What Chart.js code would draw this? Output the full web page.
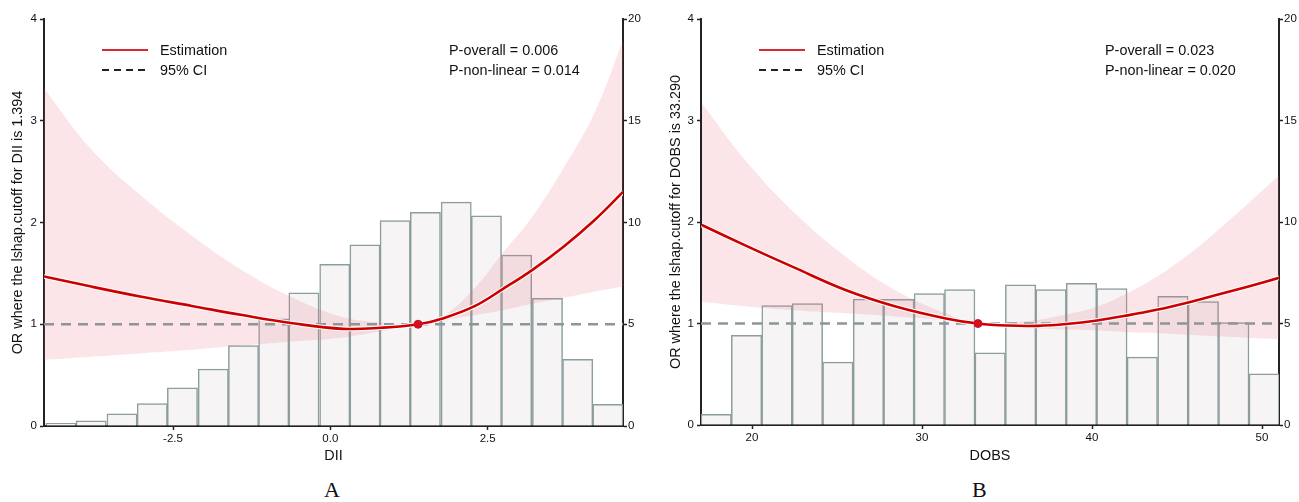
<!DOCTYPE html>
<html>
<head>
<meta charset="utf-8">
<script src="https://cdn.jsdelivr.net/npm/chart.js@4.4.1/dist/chart.umd.min.js"></script>
<style>
  body { margin: 0; background: #fff; width: 1299px; height: 502px; position: relative; overflow: hidden;
         font-family: "Liberation Sans", Arial, sans-serif; }
  canvas { position: absolute; top: 0; }
  #cA { left: 0; }
  #cB { left: 650px; }
  .note { position: absolute; font-size: 14.4px; color: #111; line-height: 20px; white-space: nowrap; }
  .key { position: absolute; height: 2px; width: 46px; }
  .red { background: #d42a36; }
  .dash { background: repeating-linear-gradient(to right, #222 0 7px, transparent 7px 12px); }
  .letter { position: absolute; top: 477px; font-family: "Liberation Serif", "Times New Roman", serif;
            font-size: 22px; color: #111; }
</style>
</head>
<body>
<canvas id="cA" width="650" height="470"></canvas>
<canvas id="cB" width="649" height="470"></canvas>

<div class="key red" style="left:102px;top:49px"></div>
<div class="note" style="left:160px;top:40px">Estimation</div>
<div class="key dash" style="left:102px;top:69px"></div>
<div class="note" style="left:160px;top:60px">95% CI</div>
<div class="note" style="left:449px;top:40px">P-overall = 0.006</div>
<div class="note" style="left:449px;top:60px">P-non-linear = 0.014</div>
<div class="letter" style="left:324px">A</div>

<div class="key red" style="left:759px;top:49px"></div>
<div class="note" style="left:817px;top:40px">Estimation</div>
<div class="key dash" style="left:759px;top:69px"></div>
<div class="note" style="left:817px;top:60px">95% CI</div>
<div class="note" style="left:1105px;top:40px">P-overall = 0.023</div>
<div class="note" style="left:1105px;top:60px">P-non-linear = 0.020</div>
<div class="letter" style="left:972px">B</div>

<script>
'use strict';

// ---- panel A : DII ----
const xA   = [-4.55, -3.8, -3.0, -2.2, -1.4, -0.6, 0.2, 0.8, 1.394, 1.8, 2.3, 2.75, 3.2, 3.7, 4.2, 4.65];
const estA = [1.47, 1.37, 1.27, 1.18, 1.09, 1.01, 0.955, 0.965, 1.0, 1.06, 1.18, 1.35, 1.53, 1.76, 2.025, 2.30];
const upA  = [3.32, 2.72, 2.26, 1.87, 1.53, 1.26, 1.07, 1.02, 1.0, 1.08, 1.36, 1.71, 2.05, 2.53, 3.08, 3.79];
const loA  = [0.65, 0.68, 0.715, 0.75, 0.79, 0.83, 0.87, 0.93, 1.0, 1.04, 1.09, 1.14, 1.20, 1.26, 1.32, 1.37];
const binA = [-4.28, -3.80, -3.31, -2.83, -2.35, -1.86, -1.38, -0.90, -0.42, 0.07, 0.55, 1.03, 1.51, 2.00, 2.48, 2.96, 3.45, 3.93, 4.41];
const cntA = [0.13, 0.26, 0.6, 1.1, 1.87, 2.8, 3.95, 5.27, 6.55, 7.95, 8.9, 10.1, 10.5, 11.0, 10.33, 8.4, 6.27, 3.28, 1.07];
const xTicksA = [-2.5, 0, 2.5];
const xLabelsA = ['-2.5', '0.0', '2.5'];

// ---- panel B : DOBS ----
const xB   = [17.05, 19.6, 22.5, 25.5, 28.4, 31.4, 33.29, 35.0, 36.8, 38.5, 40.3, 42.1, 43.8, 45.6, 47.2, 49.1, 51.0];
const estB = [1.97, 1.77, 1.55, 1.33, 1.17, 1.05, 1.0, 0.98, 0.977, 0.995, 1.03, 1.08, 1.135, 1.205, 1.275, 1.36, 1.45];
const upB  = [3.17, 2.61, 2.09, 1.66, 1.33, 1.10, 1.0, 1.01, 1.035, 1.09, 1.165, 1.30, 1.46, 1.67, 1.89, 2.17, 2.46];
const loB  = [1.215, 1.17, 1.13, 1.10, 1.07, 1.035, 1.0, 0.97, 0.95, 0.94, 0.93, 0.915, 0.905, 0.89, 0.875, 0.86, 0.845];
const binB = [17.89, 19.68, 21.47, 23.26, 25.05, 26.85, 28.64, 30.43, 32.22, 34.01, 35.80, 37.59, 39.38, 41.17, 42.96, 44.76, 46.55, 48.34, 50.13];
const cntB = [0.53, 4.42, 5.88, 5.98, 3.1, 6.2, 6.19, 6.47, 6.67, 3.55, 6.91, 6.67, 6.98, 6.72, 3.34, 6.34, 6.08, 5.05, 2.52];
const xTicksB = [20, 30, 40, 50];
const xLabelsB = ['20', '30', '40', '50'];

const orTicks = [0, 1, 2, 3, 4];
const countTicks = [0, 5, 10, 15, 20];

const FONT = 'Liberation Sans';

function pts(xs, ys) {
  return xs.map(function(x, i) { return {x: x, y: ys[i]}; });
}

function axisBits() {
  return {
    grid: { display: true, offset: false, drawOnChartArea: false, drawTicks: true, tickLength: 4,
            tickColor: '#222', tickWidth: 1.5 },
    border: { display: true, color: '#222', width: 2 }
  };
}

function makeChart(id, o) {
  const tickFont = { size: 11.5, family: FONT };
  return new Chart(document.getElementById(id), {
    type: 'bar',
    data: {
      datasets: [
        { type: 'line', data: pts(o.xs, o.est), borderColor: '#cc0000', borderWidth: 2.6,
          pointRadius: 0, tension: 0.4, order: 1 },
        // thin white halo under the estimate, as in the original
        { type: 'line', data: pts(o.xs, o.est), borderColor: '#ffffff', borderWidth: 4.6,
          pointRadius: 0, tension: 0.4, order: 1.5 },
        { type: 'line', data: [{x: o.cut, y: 1}], showLine: false, pointRadius: 4,
          pointBackgroundColor: '#d0101e', pointBorderColor: '#d0101e', order: 0 },
        { type: 'line', data: [{x: o.min, y: 1}, {x: o.max, y: 1}], borderColor: '#8d9696',
          borderWidth: 2.5, borderDash: [10, 7], pointRadius: 0, order: 2 },
        { type: 'line', data: pts(o.xs, o.up), borderWidth: 0, pointRadius: 0, fill: '+1',
          backgroundColor: 'rgba(232,110,125,0.18)', tension: 0.4, order: 3 },
        { type: 'line', data: pts(o.xs, o.lo), borderWidth: 0, pointRadius: 0, fill: false,
          tension: 0.4, order: 3 },
        { type: 'bar', data: pts(o.bins, o.counts), yAxisID: 'y2', backgroundColor: '#f6f4f5',
          borderColor: '#8b9d9d', borderWidth: 1.5, barPercentage: 1, categoryPercentage: 1, order: 4 }
      ]
    },
    options: {
      responsive: false,
      animation: false,
      devicePixelRatio: 1,
      layout: { padding: { top: 19, left: 0, right: 0, bottom: 0 } },
      plugins: { legend: { display: false }, tooltip: { enabled: false } },
      scales: {
        x: Object.assign(axisBits(), {
          type: 'linear', min: o.min, max: o.max, offset: false,
          afterBuildTicks: function(s) { s.ticks = o.xTicks.map(function(v) { return {value: v}; }); },
          afterFit: function(s) { s.height = o.xh; },
          ticks: { color: '#111', font: tickFont, padding: 2, maxRotation: 0,
                   callback: function(v, i) { return o.xLabels[i]; } },
          title: { display: true, text: o.xTitle, color: '#111', font: { size: 14.4, family: FONT },
                   padding: { top: 0, bottom: 5 } }
        }),
        y: Object.assign(axisBits(), {
          position: 'left', min: 0, max: 4,
          afterBuildTicks: function(s) { s.ticks = orTicks.map(function(v) { return {value: v}; }); },
          afterFit: function(s) { s.width = o.yw; },
          ticks: { color: '#111', font: tickFont, padding: 3 },
          title: { display: true, text: o.yTitle, color: '#111', font: { size: 14.4, family: FONT },
                   padding: { top: o.ytp, bottom: 0 } }
        }),
        y2: Object.assign(axisBits(), {
          position: 'right', min: 0, max: 20,
          afterBuildTicks: function(s) { s.ticks = countTicks.map(function(v) { return {value: v}; }); },
          afterFit: function(s) { s.width = o.y2w; },
          ticks: { color: '#111', font: tickFont, padding: 1 }
        })
      }
    }
  });
}

makeChart('cA', {
  xs: xA, est: estA, up: upA, lo: loA, bins: binA, counts: cntA, cut: 1.394,
  min: -4.55, max: 4.65, xTicks: xTicksA, xLabels: xLabelsA, xTitle: 'DII',
  yTitle: 'OR where the lshap.cutoff for DII is 1.394',
  xh: 44, yw: 44, y2w: 27, ytp: 9.6
});

makeChart('cB', {
  xs: xB, est: estB, up: upB, lo: loB, bins: binB, counts: cntB, cut: 33.29,
  min: 17.0, max: 51.0, xTicks: xTicksB, xLabels: xLabelsB, xTitle: 'DOBS',
  yTitle: 'OR where the lshap.cutoff for DOBS is 33.290',
  xh: 45, yw: 51, y2w: 20, ytp: 17.6
});
</script>
</body>
</html>
